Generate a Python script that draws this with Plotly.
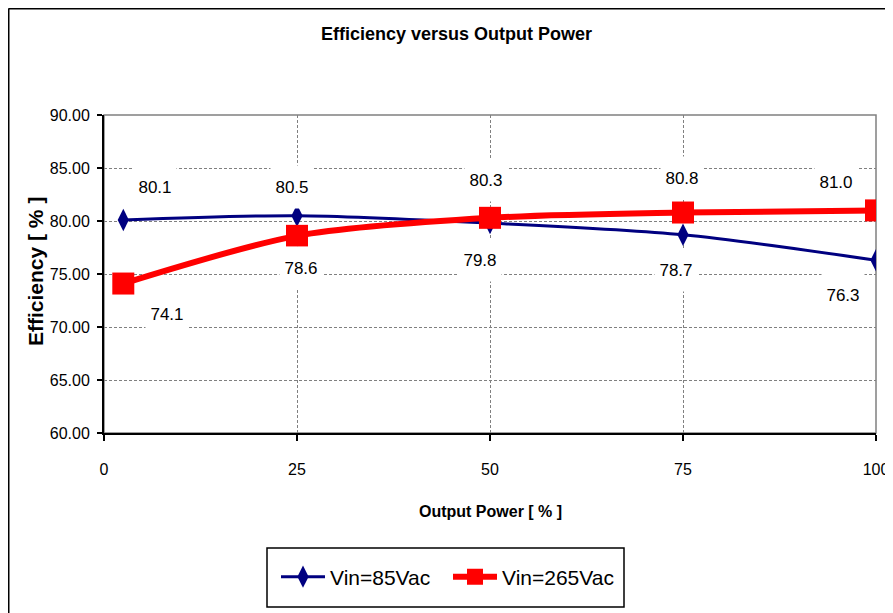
import plotly.graph_objects as go

# ---- data ----
output_power = [2.5, 25, 50, 75, 100]
eff_85 = [80.1, 80.5, 79.8, 78.7, 76.3]
eff_265 = [74.1, 78.6, 80.3, 80.8, 81.0]
series_names = ["Vin=85Vac", "Vin=265Vac"]
x_ticks = [0, 25, 50, 75, 100]
y_ticks = [60, 65, 70, 75, 80, 85, 90]

# ---- label offsets (px, style only) ----
off_85 = [(32, 33), (-5, 29), (-10, -37), (-7, -35), (-33, -35)]
off_265 = [(44, -30), (4, -32), (-4, 38), (-1, 35), (-40, 28)]

FONT = "Liberation Sans, Arial, sans-serif"

OFF = 8  # page body margin
W, H = 893 - OFF, 613 - OFF
L, R, T, B = 96, 17, 107, 180
pw, ph = W - L - R, H - T - B


def px_x(p):  # page pixel -> paper x
    return (p - OFF - L) / pw


def px_y(p):  # page pixel (from top) -> paper y
    return (H - B - (p - OFF)) / ph


fig = go.Figure()
fig.add_trace(go.Scatter(
    x=output_power, y=eff_85, name=series_names[0], mode="lines+markers",
    line=dict(color="#000080", width=3, shape="spline", smoothing=0.8),
    marker=dict(symbol="diamond-tall", size=16, color="#000080"),
))
fig.add_trace(go.Scatter(
    x=output_power, y=eff_265, name=series_names[1], mode="lines+markers",
    line=dict(color="#FF0000", width=6, shape="spline", smoothing=0.8),
    marker=dict(symbol="square", size=22, color="#FF0000"),
))

annotations = []
for xs, ys, offs in ((output_power, eff_85, off_85), (output_power, eff_265, off_265)):
    for xv, yv, (dx, dy) in zip(xs, ys, offs):
        annotations.append(dict(
            x=xv, y=yv, xref="x", yref="y", text=f"{yv:.1f}", showarrow=False,
            xshift=dx, yshift=dy, bgcolor="white", borderpad=0, width=42, height=42,
            font=dict(family=FONT, size=17, color="black"),
        ))

# chart title and axis titles
annotations.append(dict(
    text="<b>Efficiency versus Output Power</b>", xref="paper", yref="paper",
    x=px_x(456), y=px_y(34), xanchor="center", yanchor="middle", showarrow=False,
    font=dict(family=FONT, size=18, color="black")))
annotations.append(dict(
    text="<b>Output Power [ % ]</b>", xref="paper", yref="paper",
    x=px_x(490), y=px_y(511), xanchor="center", yanchor="middle", showarrow=False,
    font=dict(family=FONT, size=16, color="black")))
annotations.append(dict(
    text="<b>Efficiency [ % ]</b>", xref="paper", yref="paper", textangle=-90,
    x=px_x(35), y=px_y(272), xanchor="center", yanchor="middle", showarrow=False,
    font=dict(family=FONT, size=21, color="black")))

shapes = [
    dict(type="rect", xref="paper", yref="paper", x0=0, x1=1, y0=0, y1=1,
         line=dict(color="#808080", width=1.5), layer="below"),
    # outer chart frame (left and top edges)
    dict(type="line", xref="paper", yref="paper",
         x0=px_x(8.5), x1=px_x(8.5), y0=px_y(640), y1=px_y(8.5),
         line=dict(color="black", width=2)),
    dict(type="line", xref="paper", yref="paper",
         x0=px_x(8.5), x1=px_x(920), y0=px_y(8.5), y1=px_y(8.5),
         line=dict(color="black", width=2)),
    # legend box
    dict(type="rect", xref="paper", yref="paper",
         x0=px_x(267), x1=px_x(624), y0=px_y(607), y1=px_y(548),
         line=dict(color="black", width=1.5), fillcolor="white", layer="below"),
]

axis_common = dict(
    showgrid=True, gridcolor="#808080", gridwidth=1, griddash="3px,2px",
    showline=True, linecolor="black", linewidth=2, zeroline=False,
    ticks="outside", tickcolor="black", tickwidth=1.5, automargin=False,
    tickfont=dict(family=FONT, size=16, color="black"),
)

fig.update_layout(
    width=W, height=H,
    margin=dict(l=L, r=R, t=T, b=B, autoexpand=False),
    paper_bgcolor="white", plot_bgcolor="white",
    xaxis=dict(range=[0, 100], tickvals=x_ticks, ticklen=6, ticklabelstandoff=15,
               **axis_common),
    yaxis=dict(range=[60, 90], tickvals=y_ticks, tickformat=".2f", ticklen=5,
               ticklabelstandoff=4, **axis_common),
    legend=dict(orientation="h", xref="container", yref="container",
                x=(448 - OFF) / W, xanchor="center", y=1 - (577 - OFF) / H, yanchor="middle",
                borderwidth=0, bgcolor="rgba(0,0,0,0)",
                font=dict(family=FONT, size=21, color="black"),
                itemwidth=44, entrywidth=113),
    annotations=annotations,
    shapes=shapes,
    showlegend=True,
)

fig.write_html("out.html")
